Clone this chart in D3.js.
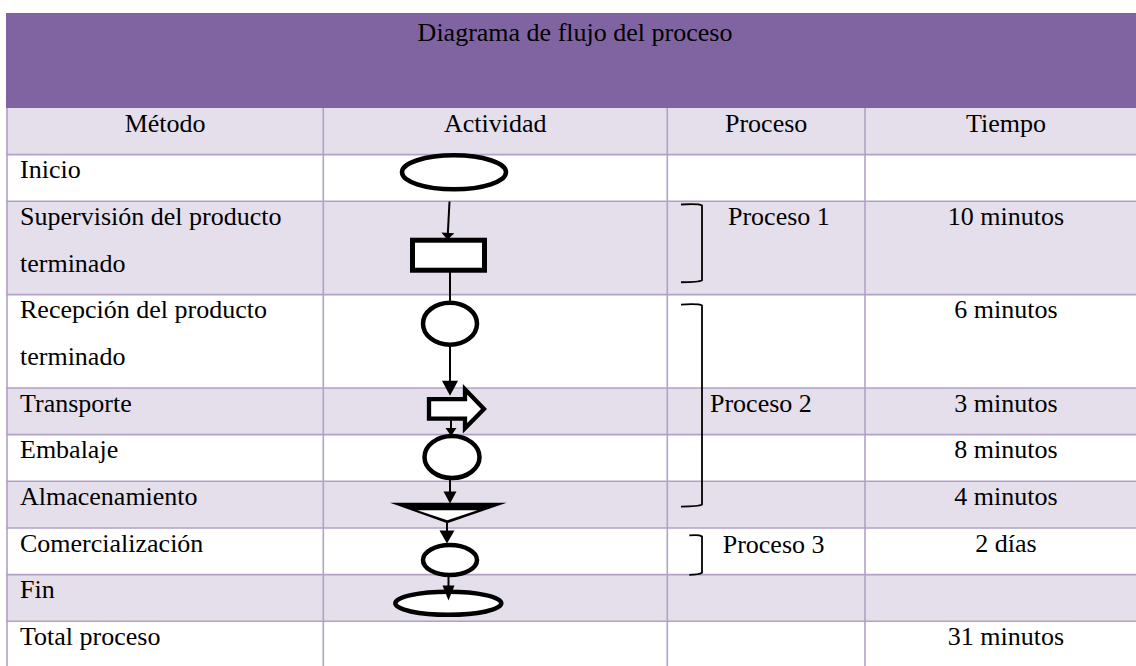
<!DOCTYPE html>
<html><head><meta charset="utf-8">
<script src="https://cdn.jsdelivr.net/npm/d3@7"></script>
<style>
html,body{margin:0;padding:0;background:#fff;overflow:hidden}
svg{display:block}
svg text{font-family:"Liberation Serif","Times New Roman","DejaVu Serif",serif;font-size:26px;fill:#000}
</style>
</head><body>
<svg id="c" width="1136" height="666"></svg>
<script>
// ---------- data ----------
const title = "Diagrama de flujo del proceso";
const headers = ["Método", "Actividad", "Proceso", "Tiempo"];
const metodos = [
  ["Inicio"],
  ["Supervisión del producto", "terminado"],
  ["Recepción del producto", "terminado"],
  ["Transporte"],
  ["Embalaje"],
  ["Almacenamiento"],
  ["Comercialización"],
  ["Fin"],
  ["Total proceso"]
];
const simbolos = ["terminal", "inspeccion", "operacion", "transporte", "operacion",
                  "almacenamiento", "operacion", "terminal", null];
const tiempos = ["", "10 minutos", "6 minutos", "3 minutos", "8 minutos", "4 minutos", "2 días", "", "31 minutos"];
const procesoLabels = ["Proceso 1", "Proceso 2", "Proceso 3"];
const procesoFrom = [1, 2, 6];
const procesoTo = [1, 5, 6];
const procesoTextRow = [1, 3, 6];

// ---------- layout ----------
const W = 1136, H = 666;
const PURPLE = "#8064A2", LIGHT = "#E5DFEC", GRID = "#B2A1C7";
const colEdges = [7, 323.3, 667.3, 865, 1147];
const bandTop = 13, tableTop = 108, lineH = 46.66;
const rowLines = metodos.map(m => m.length);
const starts = [];
{ let acc = 1; rowLines.forEach(n => { starts.push(acc); acc += n; }); }
const totalLines = 1 + d3.sum(rowLines);
const y = d3.scaleLinear().domain([0, totalLines]).range([tableTop, tableTop + lineH * totalLines]);
const rowTop = i => y(starts[i]);
const rowBot = i => y(starts[i] + rowLines[i]);
const colCenter = i => (colEdges[i] + colEdges[i + 1]) / 2;
const baseOff = 23.7;

const svg = d3.select("#c");

// header band
svg.append("rect").attr("x", 6).attr("y", bandTop).attr("width", W - 6).attr("height", tableTop - bandTop).attr("fill", PURPLE);
svg.append("text").attr("x", 575).attr("y", 41).attr("text-anchor", "middle").text(title);

// header row + row backgrounds
svg.append("rect").attr("x", 6).attr("y", y(0)).attr("width", W - 6).attr("height", y(1) - y(0)).attr("fill", LIGHT);
svg.selectAll("rect.row").data(metodos).join("rect").attr("class", "row")
  .attr("x", 6).attr("y", (d, i) => rowTop(i)).attr("width", W - 6)
  .attr("height", (d, i) => rowBot(i) - rowTop(i))
  .attr("fill", (d, i) => i % 2 === 1 ? LIGHT : "#fff");

// grid lines
const hLines = [1].concat(metodos.map((d, i) => starts[i] + rowLines[i]));
svg.selectAll("line.h").data(hLines).join("line").attr("class", "h")
  .attr("x1", 6).attr("x2", W).attr("y1", d => y(d)).attr("y2", d => y(d))
  .attr("stroke", GRID).attr("stroke-width", 1.6);
svg.selectAll("line.v").data(colEdges.slice(0, 4)).join("line").attr("class", "v")
  .attr("x1", d => d).attr("x2", d => d).attr("y1", y(0)).attr("y2", H)
  .attr("stroke", GRID).attr("stroke-width", 1.6);

// header texts
svg.selectAll("text.hd").data(headers).join("text").attr("class", "hd")
  .attr("x", (d, i) => colCenter(i)).attr("y", y(0) + baseOff).attr("text-anchor", "middle")
  .text(d => d);

// method texts
metodos.forEach((lines, i) => {
  lines.forEach((t, k) => {
    svg.append("text").attr("x", 20).attr("y", rowTop(i) + baseOff + k * lineH).text(t);
  });
});

// time texts
svg.selectAll("text.tm").data(tiempos).join("text").attr("class", "tm")
  .attr("x", 1006).attr("y", (d, i) => rowTop(i) + baseOff).attr("text-anchor", "middle")
  .text(d => d);

// process brackets + labels
const procLayout = [
  { tx: 728, dTop: 2.7, dBot: 12.9, x0: 681, tdy: 0 },
  { tx: 710, dTop: 9.4, dBot: 21.9, x0: 681, tdy: 0 },
  { tx: 722.7, dTop: 7, dBot: 0.3, x0: 689.3, tdy: 1 }
];
const bx1 = 702;
procesoLabels.forEach((lab, p) => {
  const L = procLayout[p];
  const t = rowTop(procesoFrom[p]) + L.dTop;
  const b = rowBot(procesoTo[p]) - L.dBot;
  svg.append("path")
    .attr("d", `M${L.x0},${t + 0.5} Q${bx1 - 3},${t - 0.5} ${bx1},${t + 1.5} L${bx1},${b - 1.5} Q${bx1 - 3},${b + 0.5} ${L.x0},${b + 0.5}`)
    .attr("fill", "none").attr("stroke", "#000").attr("stroke-width", 1.8);
  svg.append("text").attr("x", L.tx).attr("y", rowTop(procesoTextRow[p]) + baseOff + L.tdy).text(lab);
});

// ---------- flow symbols ----------
const symLayout = [
  { cx: 454, dy: 17.6, rx: 52, ry: 17, sw: 4.5 },
  { cx: 448.5, dy: 53.9, w: 72, h: 30, sw: 5 },
  { cx: 450, dy: 29.1, rx: 27, ry: 21, sw: 4.5 },
  { cx: 456, dy: 20.8, sw: 4.3 },
  { cx: 452, dy: 22.4, rx: 27.5, ry: 21, sw: 4.5 },
  { cx: 448.3, dy: 21.4 },
  { cx: 450, dy: 32.1, rx: 27, ry: 15, sw: 4.5 },
  { cx: 448.3, dy: 28.7, rx: 53, ry: 11.5, sw: 4.5 }
];
const gSym = svg.append("g");
simbolos.forEach((s, i) => {
  if (!s) return;
  const L = symLayout[i];
  const cy = rowTop(i) + L.dy;
  if (s === "terminal" || s === "operacion") {
    gSym.append("ellipse").attr("cx", L.cx).attr("cy", cy).attr("rx", L.rx).attr("ry", L.ry)
      .attr("fill", "#fff").attr("stroke", "#000").attr("stroke-width", L.sw);
  } else if (s === "inspeccion") {
    gSym.append("rect").attr("x", L.cx - L.w / 2).attr("y", cy - L.h / 2).attr("width", L.w).attr("height", L.h)
      .attr("fill", "#fff").attr("stroke", "#000").attr("stroke-width", L.sw);
  } else if (s === "transporte") {
    const pts = [[-27, -9.7], [9, -9.7], [9, -19.5], [28, 0.3], [9, 19.5], [9, 9.8], [-27, 9.8]];
    gSym.append("polygon").attr("points", pts.map(p => [L.cx + p[0], cy + p[1]].join(",")).join(" "))
      .attr("fill", "#fff").attr("stroke", "#000").attr("stroke-width", L.sw)
      .attr("stroke-linejoin", "miter").attr("stroke-miterlimit", 10);
  } else if (s === "almacenamiento") {
    const outer = [[-58.3, 0], [58.4, 0], [-1, 20.5]];
    const inner = [[-31, 7.6], [29, 7.6], [-1, 17.5]];
    gSym.append("polygon").attr("points", outer.map(p => [L.cx + p[0], cy + p[1]].join(",")).join(" ")).attr("fill", "#000");
    gSym.append("polygon").attr("points", inner.map(p => [L.cx + p[0], cy + p[1]].join(",")).join(" ")).attr("fill", "#fff");
  }
});

// connectors: [row, x1, dy1, x2, dy2(from same row top), headLen, headWidth]
const connLayout = [
  [1, 449.5, 0.2, 447.5, 38.5, 7, 13],
  [1, 450, 70.5, 450, 99.5, 0, 0],
  [2, 450, 51.5, 450, 101, 15, 16],
  [3, 451, 32, 451, 48, 8, 11],
  [4, 450, 45.5, 450, 69, 12, 13],
  [5, 447, 39.7, 447, 62.2, 13, 15],
  [6, 448.5, 49, 448.5, 72.6, 15, 12]
];
const gCon = svg.append("g");
connLayout.forEach(c => {
  const [r, x1, d1, x2, d2, hl, hw] = c;
  const y1 = rowTop(r) + d1, y2 = rowTop(r) + d2;
  const ang = Math.atan2(y2 - y1, x2 - x1);
  const ux = Math.cos(ang), uy = Math.sin(ang);
  const lx = x2 - ux * hl, ly = y2 - uy * hl;
  gCon.append("line").attr("x1", x1).attr("y1", y1).attr("x2", hl ? lx + ux : x2).attr("y2", hl ? ly + uy : y2)
    .attr("stroke", "#000").attr("stroke-width", 2);
  if (hl) {
    const px = -uy, py = ux;
    const pts = [[x2, y2], [lx + px * hw / 2, ly + py * hw / 2], [lx - px * hw / 2, ly - py * hw / 2]];
    gCon.append("polygon").attr("points", pts.map(p => p.join(",")).join(" ")).attr("fill", "#000");
  }
});
</script>
</body></html>
